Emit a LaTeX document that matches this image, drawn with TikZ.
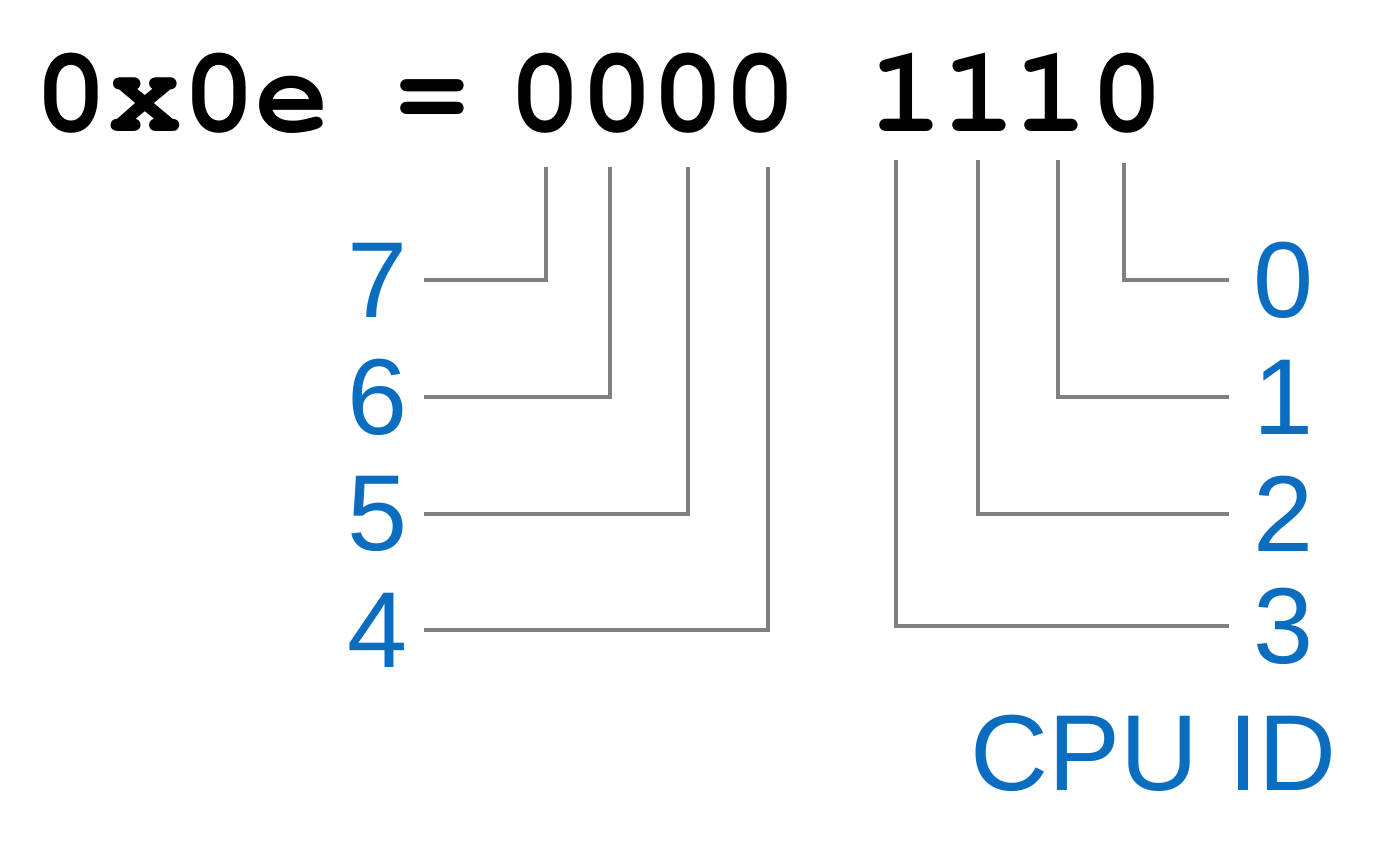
\documentclass[tikz,border=0pt]{standalone}
\usepackage[T1]{fontenc}
\usepackage{fontspec}
\newfontfamily\bitfont{Liberation Sans}
\definecolor{bitblue}{RGB}{11,109,191}
\definecolor{wiregray}{RGB}{128,128,128}
\tikzset{
  hexdigit/.style={inner sep=0pt, anchor=base,
    font=\fontencoding{T1}\fontfamily{pcr}\fontseries{b}\fontsize{61.5}{61.5}\selectfont},
  bitlabel/.style={text=bitblue, inner ysep=0pt,
    font=\bitfont\fontsize{54}{54}\selectfont},
  wire/.style={draw=wiregray, line width=2pt},
}

\begin{document}
\begin{tikzpicture}[x=0.5pt, y=-0.5pt]
    \useasboundingbox (0,0) rectangle (1384,842);

    % hodnota
    \node[hexdigit, anchor=base west] (hex) at (34,131) {0x0e};
    \node[hexdigit] (eq) at (432,131) {=};

    % bity
    \node[hexdigit] (b7) at (545,131) {0};
    \node[hexdigit] (b6) at (617,131) {0};
    \node[hexdigit] (b5) at (688,131) {0};
    \node[hexdigit] (b4) at (760,131) {0};
    \node[hexdigit] (b3) at (906,131) {1};
    \node[hexdigit] (b2) at (979,131) {1};
    \node[hexdigit] (b1) at (1051,131) {1};
    \node[hexdigit] (b0) at (1127,131) {0};

    % cisla bitu vlevo
    \node[bitlabel, anchor=east, inner xsep=8pt] (l7) at (424,280) {7};
    \node[bitlabel, anchor=east, inner xsep=8pt] (l6) at (424,397) {6};
    \node[bitlabel, anchor=east, inner xsep=8pt] (l5) at (424,514) {5};
    \node[bitlabel, anchor=east, inner xsep=8pt] (l4) at (424,630) {4};

    % cisla bitu vpravo
    \node[bitlabel, anchor=west, inner xsep=12pt] (l0) at (1229,280) {0};
    \node[bitlabel, anchor=west, inner xsep=12pt] (l1) at (1229,397) {1};
    \node[bitlabel, anchor=west, inner xsep=12pt] (l2) at (1229,514) {2};
    \node[bitlabel, anchor=west, inner xsep=12pt] (l3) at (1229,626) {3};

    \node[bitlabel, anchor=base west, inner sep=0pt] (cpuid) at (970,790) {CPU ID};

    % vodice
    \draw[wire] (b7.south) ++(1,33) |- (l7.east);
    \draw[wire] (b6.south) ++(-7,33) |- (l6.east);
    \draw[wire] (b5.south) ++(0,33) |- (l5.east);
    \draw[wire] (b4.south) ++(8,33) |- (l4.east);
    \draw[wire] (b3.south) ++(-10,29) |- (l3.west);
    \draw[wire] (b2.south) ++(-1,29) |- (l2.west);
    \draw[wire] (b1.south) ++(7,29) |- (l1.west);
    \draw[wire] (b0.south) ++(-3,29) |- (l0.west);
\end{tikzpicture}
\end{document}
